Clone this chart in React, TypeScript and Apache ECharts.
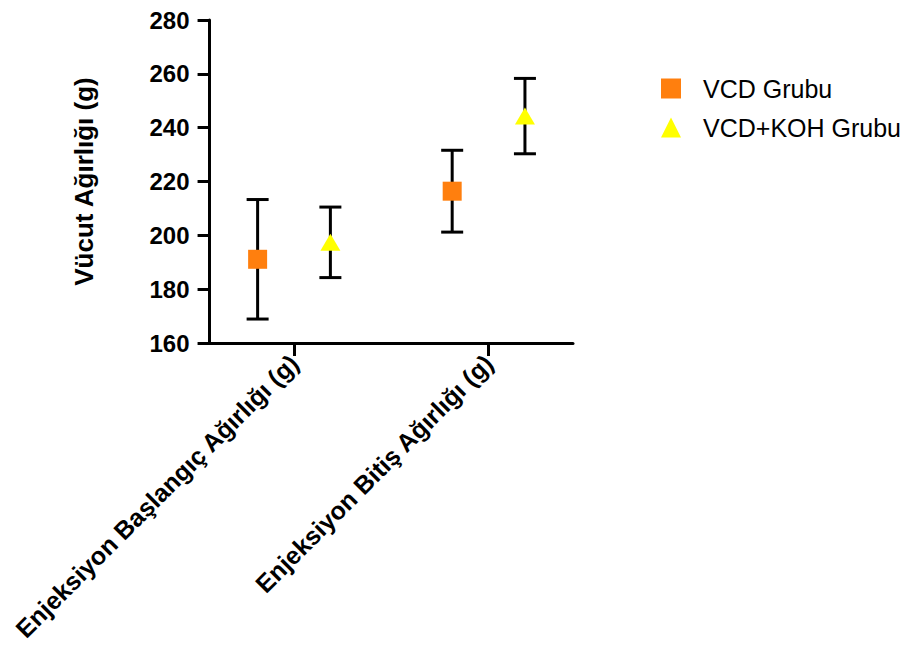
import React, { useEffect, useRef } from "react";
import * as echarts from "echarts";

const categories = ["Enjeksiyon Başlangıç Ağırlığı (g)", "Enjeksiyon Bitiş Ağırlığı (g)"];
const seriesNames = ["VCD Grubu", "VCD+KOH Grubu"];
const vcdMean = [191.1, 216.4];
const vcdErr = [22.2, 15.2];
const kohMean = [197.4, 244.3];
const kohErr = [13.1, 14.0];
const yTicks = [160, 180, 200, 220, 240, 260, 280];

const GROUP_OFFSET = 0.187;
const FONT = "'Liberation Sans', Arial, Helvetica, sans-serif";

export default function App() {
  const ref = useRef<HTMLDivElement>(null);
  useEffect(() => {
    if (!ref.current) return;
    const chart = echarts.init(ref.current, null, { renderer: "svg" });

    const mk = (means: number[], errs: number[], off: number) =>
      means.map((m, i) => [i + off, m - errs[i], m + errs[i], m]);
    const vcdPts = mk(vcdMean, vcdErr, -GROUP_OFFSET);
    const kohPts = mk(kohMean, kohErr, GROUP_OFFSET);

    const errRender = (params: any, api: any) => {
      const x = api.value(0);
      const lo = api.value(1);
      const hi = api.value(2);
      const top = api.coord([x, hi]);
      const bot = api.coord([x, lo]);
      const cw = 11;
      const st = { stroke: "#000", lineWidth: 3 };
      return {
        type: "group",
        children: [
          { type: "line", shape: { x1: top[0], y1: top[1], x2: bot[0], y2: bot[1] }, style: st },
          { type: "line", shape: { x1: top[0] - cw, y1: top[1], x2: top[0] + cw, y2: top[1] }, style: st },
          { type: "line", shape: { x1: bot[0] - cw, y1: bot[1], x2: bot[0] + cw, y2: bot[1] }, style: st },
        ],
      };
    };

    chart.setOption({
      animation: false,
      backgroundColor: "#fff",
      textStyle: { fontFamily: FONT },
      grid: { left: 195, top: 11, right: 350, bottom: 317, containLabel: false },
      legend: {
        data: seriesNames,
        orient: "vertical",
        left: 648,
        top: 63,
        itemWidth: 20,
        itemHeight: 20,
        itemGap: 14,
        textStyle: { fontSize: 25, color: "#000", fontFamily: FONT, padding: [0, 0, 0, 17] },
      },
      xAxis: {
        type: "value",
        min: -0.434,
        max: 1.434,
        splitLine: { show: false },
        axisLine: { show: true, onZero: false, lineStyle: { color: "#000", width: 3 } },
        axisTick: { show: true, customValues: [0, 1], length: 13, lineStyle: { color: "#000", width: 3 } },
        axisLabel: {
          show: true,
          customValues: [0, 1],
          formatter: (v: number) => categories[Math.round(v)] ?? "",
          rotate: 45,
          margin: 16,
          fontSize: 25,
          fontWeight: "bold",
          color: "#000",
          fontFamily: FONT,
        },
      },
      yAxis: {
        type: "value",
        min: 160,
        max: 280,
        interval: 20,
        name: "Vücut Ağırlığı (g)",
        nameLocation: "middle",
        nameGap: 113,
        nameTextStyle: { fontSize: 26, fontWeight: "bold", color: "#000", fontFamily: FONT },
        splitLine: { show: false },
        axisLine: { show: true, onZero: false, lineStyle: { color: "#000", width: 3 } },
        axisTick: { show: true, length: 12, lineStyle: { color: "#000", width: 3 } },
        axisLabel: {
          margin: 20,
          fontSize: 24,
          fontWeight: "bold",
          color: "#000",
          fontFamily: FONT,
          formatter: (v: number) => (yTicks.includes(v) ? String(v) : ""),
        },
      },
      series: [
        {
          type: "custom",
          name: "err1",
          renderItem: errRender,
          data: vcdPts,
          encode: { x: 0, y: [1, 2] },
          z: 2,
          silent: true,
        },
        {
          type: "custom",
          name: "err2",
          renderItem: errRender,
          data: kohPts,
          encode: { x: 0, y: [1, 2] },
          z: 2,
          silent: true,
        },
        {
          type: "scatter",
          name: seriesNames[0],
          data: vcdPts.map((p) => [p[0], p[3]]),
          symbol: "rect",
          symbolSize: 19,
          itemStyle: { color: "#FF7F0E", opacity: 1 },
          z: 5,
        },
        {
          type: "scatter",
          name: seriesNames[1],
          data: kohPts.map((p) => [p[0], p[3]]),
          symbol: "triangle",
          symbolSize: [20, 17],
          itemStyle: { color: "#FFFF00", opacity: 1 },
          z: 5,
        },
      ],
    });
    return () => chart.dispose();
  }, []);
  return <div ref={ref} style={{ width: 915, height: 652 }} />;
}
